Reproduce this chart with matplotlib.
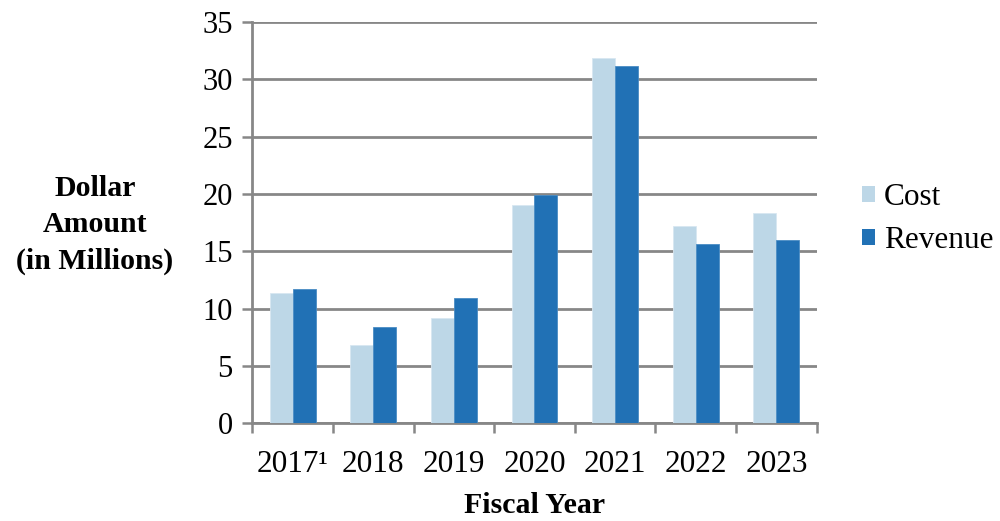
import numpy as np
import matplotlib
matplotlib.use("Agg")
import matplotlib.pyplot as plt

plt.rcParams['font.family'] = ['Liberation Serif', 'DejaVu Serif']

# fiscal years and amounts in millions of dollars
years = ['2017\u00b9', '2018', '2019', '2020', '2021', '2022', '2023']
cost = [11.4, 6.8, 9.2, 19.0, 31.9, 17.2, 18.3]
revenue = [11.7, 8.4, 10.9, 19.9, 31.2, 15.6, 16.0]

cost_color = '#BDD7E7'
revenue_color = '#2171B5'
grid_color = '#878787'

fig = plt.figure(figsize=(10, 5.21), dpi=100)
ax = fig.add_axes([0.2523, 0.1875, 0.5644, 0.7703])

x = np.arange(len(years))
w = 0.285
ax.bar(x - w / 2, cost, w, color=cost_color, edgecolor='#D8E7F1', linewidth=0.6, label='Cost', zorder=3)
ax.bar(x + w / 2, revenue, w, color=revenue_color, edgecolor='#4A8CC4', linewidth=0.6, label='Revenue', zorder=3)

ax.set_xlim(-0.5, len(years) - 0.5)
ax.set_ylim(0, 35)
ax.set_yticks(np.arange(0, 36, 5))
ax.yaxis.grid(True, color=grid_color, linewidth=2, zorder=0)
ax.set_axisbelow(True)

# tick marks sit between the groups, labels sit under the groups
ax.set_xticks(np.arange(-0.5, len(years), 1.0))
ax.set_xticklabels([])
ax.set_xticks(x, minor=True)
ax.set_xticklabels(years, minor=True, fontsize=22.5)
ax.tick_params(axis='x', which='major', length=7, width=1.8, color=grid_color, direction='out')
ax.tick_params(axis='x', which='minor', length=0, pad=19)
ax.tick_params(axis='y', length=7, width=1.8, color=grid_color, labelsize=22, pad=7)

for s in ['top', 'right']:
    ax.spines[s].set_visible(False)
for s in ['left', 'bottom']:
    ax.spines[s].set_color(grid_color)
    ax.spines[s].set_linewidth(2)

fig.text(0.095, 0.568, 'Dollar\nAmount\n(in Millions)', ha='center', va='center',
         fontsize=21.5, fontweight='bold', linespacing=1.45)
fig.text(0.535, 0.029, 'Fiscal Year', ha='center', va='center',
         fontsize=21.5, fontweight='bold')

leg = ax.legend(loc='center left', bbox_to_anchor=(0.862, 0.58), bbox_transform=fig.transFigure,
                frameon=False, fontsize=22.5, handlelength=0.42, handleheight=0.42,
                handletextpad=0.28, labelspacing=0.45, borderpad=0, borderaxespad=0)
for h in leg.legend_handles:
    h.set_edgecolor('none')

fig.savefig('out.png', dpi=100)
